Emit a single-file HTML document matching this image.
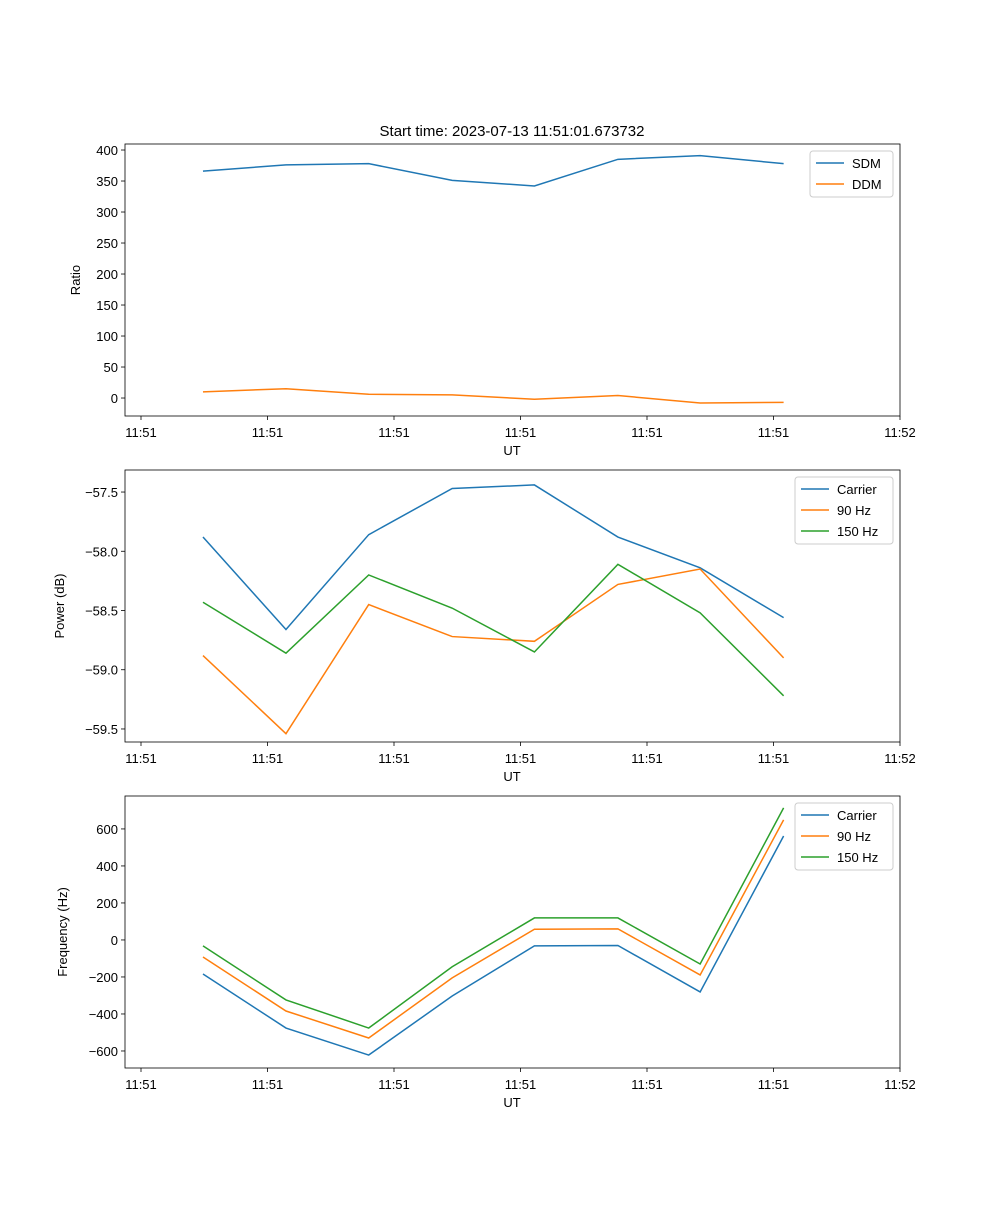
<!DOCTYPE html>
<html><head><meta charset="utf-8"><style>
body{margin:0;background:#fff}
svg text{font-family:"Liberation Sans","DejaVu Sans",sans-serif;fill:#000}
</style></head><body>
<svg id="fig" width="1000" height="1200" xmlns="http://www.w3.org/2000/svg">
<rect width="1000" height="1200" fill="#fff"/>
<text x="512" y="136" font-size="15" text-anchor="middle">Start time: 2023-07-13 11:51:01.673732</text>
</svg>
<script>
const timeSec = [4.9, 11.46, 18.0, 24.6, 31.1, 37.7, 44.2, 50.8];
const xTickSec = [0, 10, 20, 30, 40, 50, 60];
const xTickLabels = ["11:51","11:51","11:51","11:51","11:51","11:51","11:52"];
const sdm = [366, 376, 378, 351, 342, 385, 391, 378];
const ddm = [10, 15, 6, 5, -2, 4, -8, -7];
const powCarrier = [-57.88, -58.66, -57.86, -57.47, -57.44, -57.88, -58.14, -58.56];
const pow90 = [-58.88, -59.54, -58.45, -58.72, -58.76, -58.28, -58.15, -58.90];
const pow150 = [-58.43, -58.86, -58.20, -58.48, -58.85, -58.11, -58.52, -59.22];
const freqCarrier = [-184, -476, -622, -303, -32, -30, -281, 562];
const freq90 = [-92, -384, -530, -205, 58, 60, -189, 649];
const freq150 = [-32, -324, -476, -145, 119, 119, -130, 714];
const ratioTicks = [0,50,100,150,200,250,300,350,400];
const powTicks = [-57.5,-58.0,-58.5,-59.0,-59.5];
const freqTicks = [-600,-400,-200,0,200,400,600];

const NS="http://www.w3.org/2000/svg";
const svg=document.getElementById('fig');
function mk(tag,attrs,parent){const e=document.createElementNS(NS,tag);for(const k in attrs)e.setAttribute(k,attrs[k]);(parent||svg).appendChild(e);return e;}
const L=125,R=900;
function xs(s){return 141+s*(900-141)/60;}
const C={blue:"#1f77b4",orange:"#ff7f0e",green:"#2ca02c"};

function panel(name,top,bot,ymin,ymax,ticks,fmt,ylabel,ylabX,series,legend){
  const g=mk('g',{});
  
  
  const ys=v=>bot-(v-ymin)/(ymax-ymin)*(bot-top);
  for(const s of series){
    const p=mk('polyline',{points:s.vals.map((v,i)=>xs(timeSec[i])+','+ys(v)).join(' '),fill:'none',stroke:s.color,'stroke-width':1.5},g);
    
    
  }
  const fr=mk('rect',{x:L,y:top,width:R-L,height:bot-top,fill:'none',stroke:'#000','stroke-width':0.8},g);
  
  
  xTickSec.forEach((s,i)=>{
    const x=xs(s);
    mk('line',{x1:x,x2:x,y1:bot,y2:bot+4,stroke:'#000','stroke-width':0.8},g);
    const t=mk('text',{x:x,y:bot+21,'font-size':13,'text-anchor':'middle'},g);t.textContent=xTickLabels[i];
    
    
  });
  const xl=mk('text',{x:512,y:bot+39,'font-size':13,'text-anchor':'middle'},g);xl.textContent='UT';
  
  
  ticks.forEach(v=>{
    const y=ys(v);
    mk('line',{x1:L-4,x2:L,y1:y,y2:y,stroke:'#000','stroke-width':0.8},g);
    const t=mk('text',{x:L-7,y:y+5,'font-size':13,'text-anchor':'end'},g);t.textContent=fmt(v);
    
    
  });
  const yl=mk('text',{x:ylabX,y:(top+bot)/2,'font-size':13,'text-anchor':'middle',transform:`rotate(-90 ${ylabX} ${(top+bot)/2})`},g);yl.textContent=ylabel;
  
  
  const lg=mk('g',{},g);
  
  
  mk('rect',{x:legend.x,y:top+7,width:R-7-legend.x,height:series.length*21+4,fill:'#fff',stroke:'#ccc',rx:3},lg);
  series.forEach((s,i)=>{
    const y=top+19+i*21;
    mk('line',{x1:legend.x+6,x2:legend.x+34,y1:y,y2:y,stroke:s.color,'stroke-width':1.5},lg);
    const t=mk('text',{x:legend.x+42,y:y+5,'font-size':13},lg);t.textContent=s.label;
    
    
  });
}
panel('ratio',144,416,-29,409.7,ratioTicks,v=>String(v),'Ratio',80,
 [{key:'sdm',label:'SDM',vals:sdm,color:C.blue},{key:'ddm',label:'DDM',vals:ddm,color:C.orange}],{x:810});
panel('power',470,742,-59.61,-57.314,powTicks,v=>'\u2212'+Math.abs(v).toFixed(1),'Power (dB)',64,
 [{key:'carrier',label:'Carrier',vals:powCarrier,color:C.blue},{key:'90hz',label:'90 Hz',vals:pow90,color:C.orange},{key:'150hz',label:'150 Hz',vals:pow150,color:C.green}],{x:795});
panel('frequency',796,1068,-692,778,freqTicks,v=>v<0?'\u2212'+Math.abs(v):String(v),'Frequency (Hz)',67,
 [{key:'carrier',label:'Carrier',vals:freqCarrier,color:C.blue},{key:'90hz',label:'90 Hz',vals:freq90,color:C.orange},{key:'150hz',label:'150 Hz',vals:freq150,color:C.green}],{x:795});
</script>
</body></html>
